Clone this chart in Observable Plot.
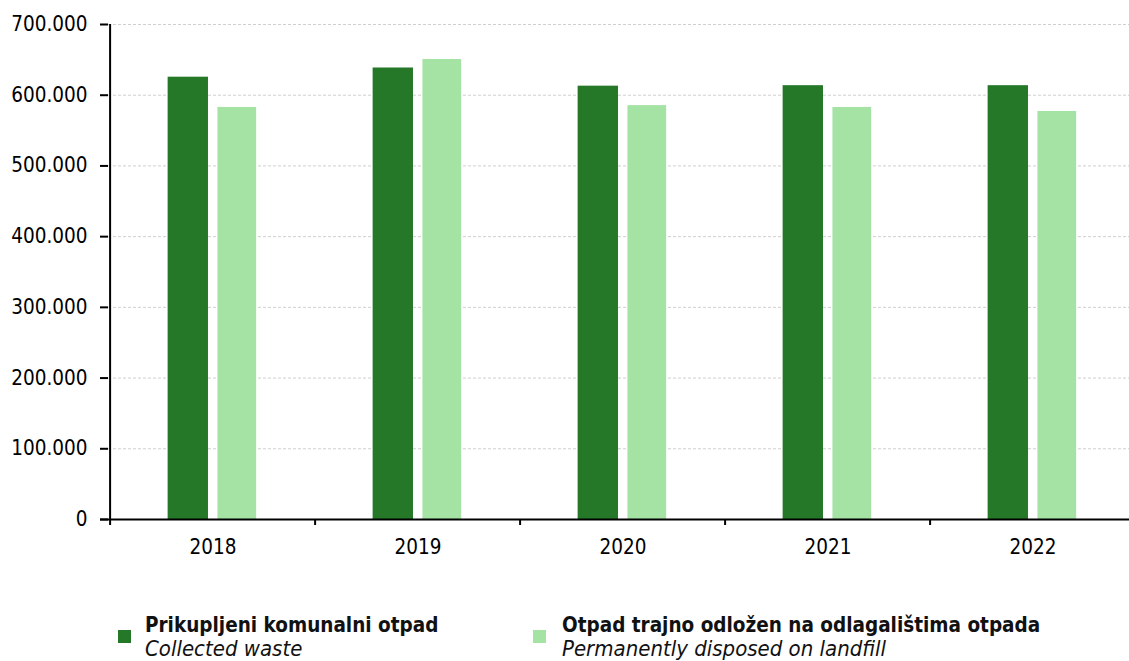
<!DOCTYPE html>
<html>
<head>
<meta charset="utf-8">
<script src="https://cdn.jsdelivr.net/npm/d3@7"></script>
<script src="https://cdn.jsdelivr.net/npm/@observablehq/plot@0.6"></script>
<style>
  html, body { margin: 0; padding: 0; background: #fff; overflow: hidden; }
  body { width: 1129px; height: 661px; position: relative; font-family: "DejaVu Sans Condensed", "DejaVu Sans", sans-serif; }
  #chart svg { display: block; overflow: visible; }
  .legend { position: absolute; top: 614px; left: 0; width: 1129px; }
  .item { position: absolute; top: 0; }
  .sw { position: absolute; top: 16px; width: 13px; height: 13px; }
  .txt { position: absolute; top: 0; white-space: nowrap; font-size: 20.5px; line-height: 23px; color: #111; }
  .txt b { font-weight: bold; }
  .txt i { font-style: italic; font-size: 22px; }
</style>
</head>
<body>
<div id="chart"></div>
<div class="legend">
  <div class="item" style="left:118px">
    <div class="sw" style="left:0;background:#267829"></div>
    <div class="txt" style="left:27px"><b>Prikupljeni komunalni otpad</b><br><i>Collected waste</i></div>
  </div>
  <div class="item" style="left:533px">
    <div class="sw" style="left:0;background:#a5e3a5"></div>
    <div class="txt" style="left:29px"><b>Otpad trajno odložen na odlagalištima otpada</b><br><i>Permanently disposed on landfill</i></div>
  </div>
</div>
<script>
const years = ["2018", "2019", "2020", "2021", "2022"];
const collected = [625500, 638500, 612800, 613500, 613500];
const landfill = [582700, 650500, 585300, 582700, 577000];
const yTicks = [0, 100000, 200000, 300000, 400000, 500000, 600000, 700000];
const colors = {collected: "#267829", landfill: "#a5e3a5"};

const W = 1129, H = 570, mL = 108, mR = -8, mT = 24, mB = 51;
const band = (W - mR - mL) / years.length;

const data = years.map((y, i) => ({year: y, collected: collected[i], landfill: landfill[i]}));
const fmt = d => d3.format(",")(d).replace(/,/g, ".");

const chart = Plot.plot({
  width: W,
  height: H,
  marginLeft: mL,
  marginRight: mR,
  marginTop: mT,
  marginBottom: mB,
  style: {fontFamily: "'DejaVu Sans Condensed', 'DejaVu Sans', sans-serif", fontSize: "20.5px", color: "#000", background: "#fff"},
  x: {type: "band", domain: years, padding: 0, axis: null, label: null},
  y: {domain: [0, 700000], axis: null, label: null},
  marks: [
    Plot.ruleY(yTicks.filter(d => d > 0), {stroke: "#cfcfcf", strokeDasharray: "3,2", strokeWidth: 1}),
    Plot.barY(data, {x: "year", y: "collected", fill: colors.collected, insetLeft: band * 0.28, insetRight: band * 0.52}),
    Plot.barY(data, {x: "year", y: "landfill", fill: colors.landfill, insetLeft: band * 0.522, insetRight: band * 0.286}),
    Plot.axisY({ticks: yTicks, tickFormat: fmt, tickSize: 8, tickPadding: 13, stroke: "#000", strokeWidth: 2, fontSize: 20.5, fill: "#000", label: null}),
    Plot.axisX({tickSize: 0, tickPadding: 20, fontSize: 20.5, fill: "#000", label: null}),
    Plot.axisX({text: null, tickSize: 6, dx: -band / 2, stroke: "#000", strokeWidth: 2, label: null}),
    Plot.ruleX([years[0]], {dx: -band / 2, stroke: "#000", strokeWidth: 2}),
    Plot.ruleY([0], {stroke: "#000", strokeWidth: 2, insetLeft: -8})
  ]
});
document.getElementById("chart").appendChild(chart);
</script>
</body>
</html>
